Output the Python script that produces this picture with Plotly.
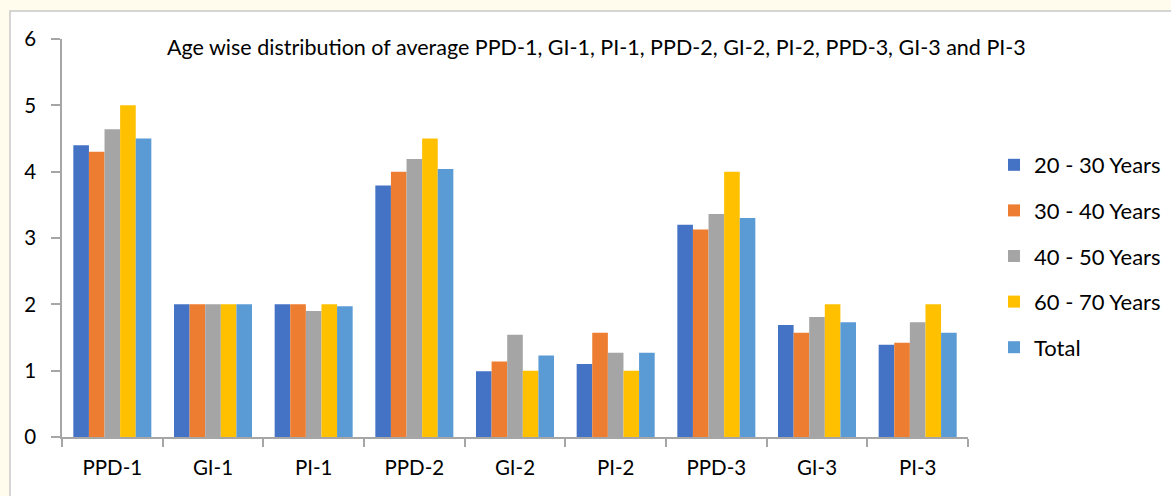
import plotly.graph_objects as go

categories = ["PPD-1", "GI-1", "PI-1", "PPD-2", "GI-2", "PI-2", "PPD-3", "GI-3", "PI-3"]
series_names = ["20 - 30 Years", "30 - 40 Years", "40 - 50 Years", "60 - 70 Years", "Total"]
age_20_30 = [4.40, 2.00, 2.00, 3.79, 0.99, 1.10, 3.20, 1.69, 1.39]
age_30_40 = [4.30, 2.00, 2.00, 4.00, 1.14, 1.57, 3.13, 1.57, 1.42]
age_40_50 = [4.64, 2.00, 1.90, 4.19, 1.54, 1.27, 3.36, 1.81, 1.73]
age_60_70 = [5.00, 2.00, 2.00, 4.50, 1.00, 1.00, 4.00, 2.00, 2.00]
total = [4.50, 2.00, 1.97, 4.04, 1.23, 1.27, 3.30, 1.73, 1.57]
y_ticks = [0, 1, 2, 3, 4, 5, 6]

colors = ["#4472C4", "#ED7D31", "#A5A5A5", "#FFC000", "#5B9BD5"]
all_series = [age_20_30, age_30_40, age_40_50, age_60_70, total]

FONT = "Lato"
BG = "#FFFCEE"

fig = go.Figure()
for i, (name, vals, col) in enumerate(zip(series_names, all_series, colors)):
    fig.add_trace(go.Bar(
        x=categories, y=vals, name=name,
        marker=dict(color=col, line=dict(width=0)),
        legendgroup=f"g{i}",
    ))

W, H = 1171, 496
L, R, T, B = 62, 203, 39, 59
pw = W - L - R
ph = H - T - B

def px_x(px):
    return (px - L) / pw

def px_y(py):
    return (H - B - py) / ph

fig.add_shape(type="rect", xref="paper", yref="paper",
              x0=px_x(10), x1=px_x(1180), y0=px_y(505), y1=px_y(11),
              fillcolor="white", line=dict(color="#C8C8C8", width=1.5), layer="below")

fig.add_annotation(text="Age wise distribution of average PPD-1, GI-1, PI-1, PPD-2, GI-2, PI-2, PPD-3, GI-3 and PI-3",
                   xref="paper", yref="paper", x=px_x(596), y=px_y(47),
                   xanchor="center", yanchor="middle", showarrow=False,
                   font=dict(family=FONT, size=21.5, color="#000000"))

fig.update_layout(
    width=W, height=H,
    margin=dict(l=L, r=R, t=T, b=B, autoexpand=False),
    paper_bgcolor=BG,
    plot_bgcolor="rgba(0,0,0,0)",
    barmode="group",
    bargap=0.225,
    bargroupgap=0,
    font=dict(family=FONT, size=20.5, color="#000000"),
    showlegend=True,
    legend=dict(
        x=px_x(994), y=px_y(144), xanchor="left", yanchor="top",
        bgcolor="rgba(0,0,0,0)",
        font=dict(family=FONT, size=22, color="#000000"),
        traceorder="grouped", tracegroupgap=14,
        itemwidth=30,
    ),
    xaxis=dict(
        showline=True, linecolor="#A6A6A6", linewidth=1.5,
        ticks="outside", tickson="boundaries", ticklen=8, tickcolor="#A6A6A6", tickwidth=1.5,
        showgrid=False, tickfont=dict(size=20.5), ticklabelstandoff=12,
    ),
    yaxis=dict(
        range=[0, 6], tickvals=y_ticks,
        showline=True, linecolor="#A6A6A6", linewidth=1.5,
        ticks="outside", ticklen=9, tickcolor="#A6A6A6", tickwidth=1.5,
        showgrid=False, zeroline=False, tickfont=dict(size=20.5), ticklabelstandoff=11,
    ),
)

fig.write_html("out.html", config={"displayModeBar": False},
               post_script="document.body.style.margin='0';document.body.style.background='%s';" % BG)
